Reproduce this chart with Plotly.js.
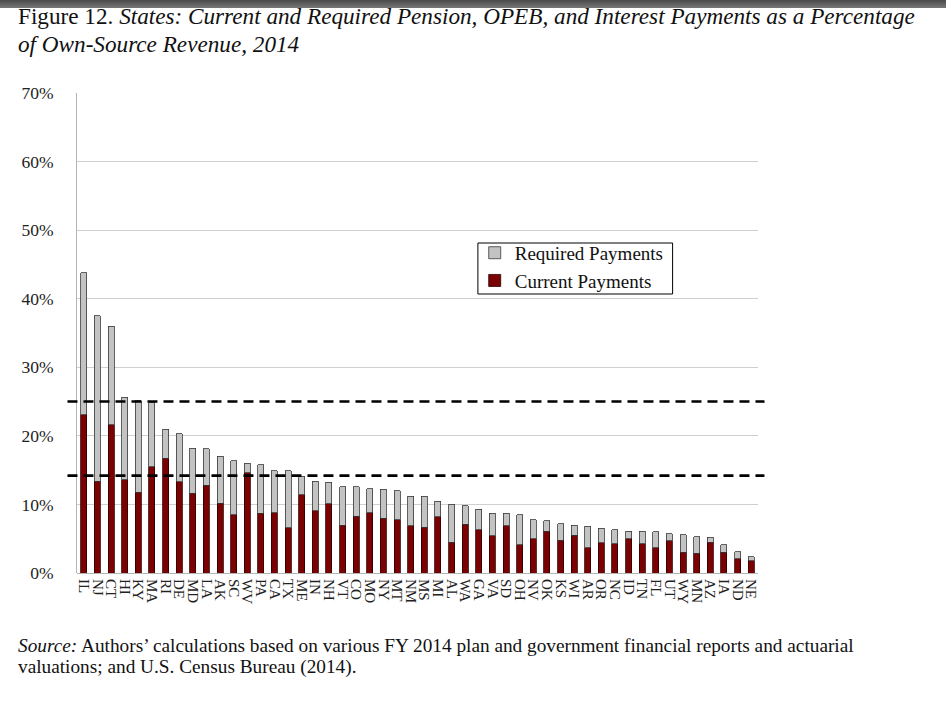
<!DOCTYPE html>
<html>
<head>
<meta charset="utf-8">
<script src="https://cdn.plot.ly/plotly-3.0.1.min.js"></script>
<style>
html,body{margin:0;padding:0;background:#fff;}
#wrap{position:relative;width:946px;height:702px;}
#chart{width:946px;height:702px;}
#band{position:absolute;left:0;top:0;width:946px;height:8px;background:linear-gradient(#4a4a4a,#777);z-index:10;}
</style>
</head>
<body>
<div id="wrap"><div id="chart"></div><div id="band"></div></div>
<script>
var states = ["IL","NJ","CT","HI","KY","MA","RI","DE","MD","LA","AK","SC","WV","PA","CA","TX","ME",
  "IN","NH","VT","CO","MO","NY","MT","NM","MS","MI","AL","WA","GA","VA","SD","OH","NV",
  "OK","KS","WI","AR","OR","NC","ID","TN","FL","UT","WY","MN","AZ","IA","ND","NE"];
var currentPayments = [23.1,13.4,21.6,13.6,11.8,15.5,16.7,13.3,11.6,12.8,10.2,8.5,14.6,8.7,8.8,6.6,11.4,
  9.1,10.1,7.0,8.3,8.8,8.0,7.8,6.9,6.7,8.2,4.5,7.1,6.3,5.4,6.9,4.1,5.0,
  6.1,4.8,5.5,3.7,4.4,4.3,5.0,4.3,3.7,4.7,3.0,2.9,4.5,3.0,2.1,1.8];
var requiredExtra = [20.7,24.1,14.4,12.0,13.3,9.3,4.3,7.0,6.6,5.3,6.8,7.9,1.4,7.1,6.1,8.3,2.7,
  4.3,3.1,5.6,4.3,3.5,4.2,4.2,4.3,4.5,2.3,5.5,2.7,3.0,3.3,1.8,4.4,2.8,
  1.5,2.4,1.5,3.1,2.1,2.0,1.1,1.8,2.3,1.0,2.6,2.4,0.7,1.1,1.0,0.6];
var yTickVals = [0,10,20,30,40,50,60,70];
var yTickText = ["0%","10%","20%","30%","40%","50%","60%","70%"];
var refLines = [25, 14.2];

var serif = "Liberation Serif, Times New Roman, serif";

var traces = [
  {type:"bar", name:"Current Payments", x:states, y:currentPayments,
   marker:{color:"#7a0202", line:{color:"#2a0000", width:0.8}}, hoverinfo:"x+y"},
  {type:"bar", name:"Required Payments", x:states, y:requiredExtra,
   marker:{color:"#c3c3c3", line:{color:"#3a3a3a", width:0.8}}, hoverinfo:"x+y"}
];

var shapes = refLines.map(function(v){
  return {type:"line", xref:"paper", yref:"y", x0:-0.014, x1:1.0095, y0:v, y1:v,
          line:{color:"#000", width:2.6, dash:"10px,6px"}, layer:"above"};
});
// legend frame
shapes.push({type:"rect", xref:"paper", yref:"paper", x0:0.5887, x1:0.8746, y0:0.58125, y1:0.6875,
             line:{color:"#000", width:1}, fillcolor:"#fff", layer:"above"});

var layout = {
  width:946, height:702,
  margin:{l:76.5, r:187.5, t:93, b:129, pad:0},
  paper_bgcolor:"#fff", plot_bgcolor:"#fff",
  barmode:"stack", bargap:0.56,
  showlegend:true,
  legend:{x:0.584, y:0.7065, xanchor:"left", yanchor:"top", traceorder:"reversed",
          borderwidth:0, bgcolor:"rgba(0,0,0,0)",
          font:{family:serif, size:19, color:"#111"}, itemwidth:30, tracegroupgap:0},
  font:{family:serif, color:"#222"},
  xaxis:{type:"category", tickmode:"linear", tick0:0, dtick:1, tickangle:90,
         tickfont:{family:serif, size:15, color:"#222"},
         showgrid:false, showline:false, ticks:"", ticklabelstandoff:5, fixedrange:true},
  yaxis:{range:[0,70], tickmode:"array", tickvals:yTickVals, ticktext:yTickText,
         showgrid:true, gridcolor:"#cfcfcf",
         gridwidth:1, showline:true, linecolor:"#b5b5b5", linewidth:1, zeroline:true,
         zerolinecolor:"#b5b5b5", ticks:"", ticklabelstandoff:19,
         tickfont:{family:serif, size:17.5, color:"#222"}, fixedrange:true},
  shapes:shapes,
  annotations:[
    {xref:"paper", yref:"paper", x:(15-76.5)/682, y:(573-16)/480, xanchor:"left", yanchor:"middle",
     showarrow:false, align:"left", font:{family:serif, size:23.2, color:"#111"},
     text:"Figure 12. <i>States: Current and Required Pension, OPEB, and Interest Payments as a Percentage</i>"},
    {xref:"paper", yref:"paper", x:(15-76.5)/682, y:(573-44)/480, xanchor:"left", yanchor:"middle",
     showarrow:false, align:"left", font:{family:serif, size:23.2, color:"#111"},
     text:"<i>of Own-Source Revenue, 2014</i>"},
    {xref:"paper", yref:"paper", x:(15-76.5)/682, y:(573-645)/480, xanchor:"left", yanchor:"middle",
     showarrow:false, align:"left", font:{family:serif, size:19.3, color:"#111"},
     text:"<i>Source:</i> Authors’ calculations based on various FY 2014 plan and government financial reports and actuarial"},
    {xref:"paper", yref:"paper", x:(15-76.5)/682, y:(573-667)/480, xanchor:"left", yanchor:"middle",
     showarrow:false, align:"left", font:{family:serif, size:19.3, color:"#111"},
     text:"valuations; and U.S. Census Bureau (2014)."}
  ]
};

Plotly.newPlot("chart", traces, layout, {displayModeBar:false, staticPlot:true});
</script>
</body>
</html>
